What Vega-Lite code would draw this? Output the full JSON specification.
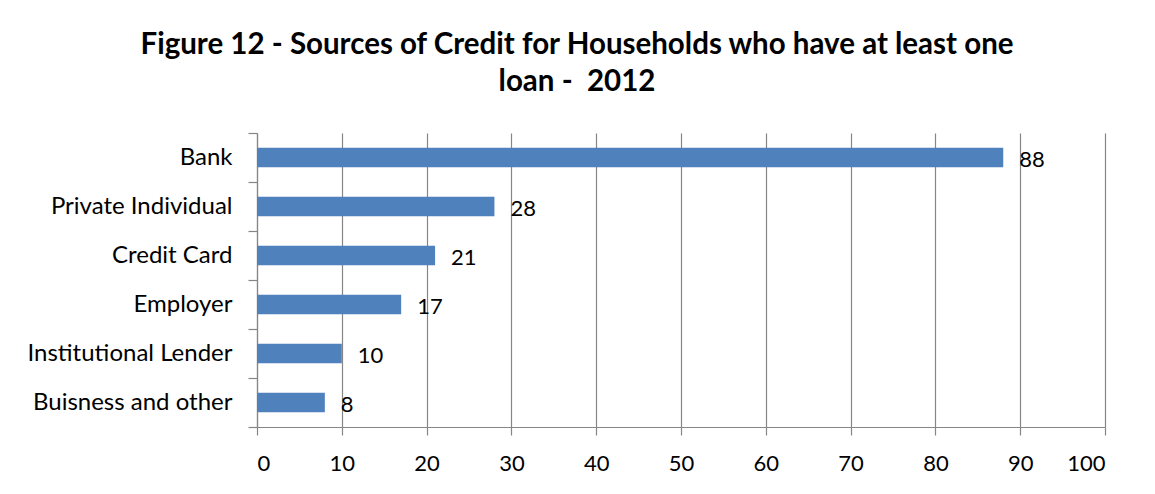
{
  "$schema": "https://vega.github.io/schema/vega-lite/v6.json",
  "width": 848,
  "height": 294,
  "autosize": "none",
  "padding": {"left": 257, "top": 133, "right": 50, "bottom": 67},
  "background": "white",
  "config": {"view": {"stroke": null}, "font": "Lato"},
  "title": {
    "text": ["Figure 12 - Sources of Credit for Households who have at least one", "loan - \u00a02012"],
    "anchor": "middle",
    "frame": "group",
    "dx": -104,
    "offset": 24,
    "font": "Lato",
    "fontSize": 29.5,
    "fontWeight": "bold",
    "color": "#000000",
    "lineHeight": 37
  },
  "data": {
    "values": [
      {"source": "Bank", "pct": 88},
      {"source": "Private Individual", "pct": 28},
      {"source": "Credit Card", "pct": 21},
      {"source": "Employer", "pct": 17},
      {"source": "Institutional Lender", "pct": 10},
      {"source": "Buisness and other", "pct": 8}
    ]
  },
  "encoding": {
    "y": {
      "field": "source",
      "type": "nominal",
      "sort": null,
      "scale": {"paddingInner": 0, "paddingOuter": 0},
      "axis": {
        "title": null,
        "grid": false,
        "tickBand": "extent",
        "domainColor": "#868686",
        "tickColor": "#868686",
        "domainWidth": 1.2,
        "tickWidth": 1.2,
        "tickSize": 9,
        "labelFont": "Lato",
        "labelFontSize": 24,
        "labelLimit": 400,
        "labelColor": "#000000",
        "labelPadding": 16
      }
    },
    "x": {
      "field": "pct",
      "type": "quantitative",
      "scale": {"domain": [0, 100], "nice": false},
      "axis": {
        "title": null,
        "values": [0, 10, 20, 30, 40, 50, 60, 70, 80, 90, 100],
        "grid": true,
        "gridColor": "#868686",
        "gridWidth": 1.2,
        "domainColor": "#868686",
        "tickColor": "#868686",
        "domainWidth": 1.2,
        "tickWidth": 1.2,
        "tickSize": 8,
        "labelFont": "Lato",
        "labelFontSize": 22,
        "labelColor": "#000000",
        "labelPadding": 18
      }
    }
  },
  "layer": [
    {
      "mark": {"type": "bar", "color": "#4F81BD", "height": {"band": 0.4}}
    },
    {
      "mark": {"type": "text", "align": "left", "baseline": "middle", "dx": 16, "dy": 2, "fontSize": 22, "font": "Lato", "color": "#000000"},
      "encoding": {"text": {"field": "pct", "type": "quantitative"}}
    }
  ]
}
